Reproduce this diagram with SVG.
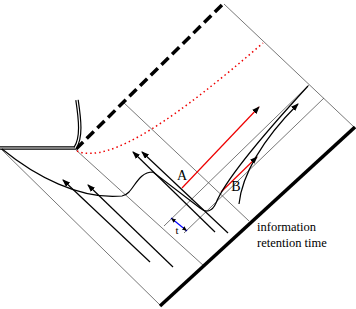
<svg xmlns="http://www.w3.org/2000/svg" width="356" height="309" viewBox="0 0 356 309">
<style>
.grid{stroke:#555;stroke-width:0.8;fill:none}
.blk{stroke:#000;stroke-width:1.2;fill:none}
.red{stroke:#e00;stroke-width:1.2;fill:none}
.lbl{font-family:"Liberation Serif",serif;fill:#000}
</style>
<defs>
<marker id="ah" markerWidth="8" markerHeight="6" refX="7" refY="3" orient="auto" markerUnits="userSpaceOnUse">
<path d="M0,0 L8,3 L0,6 z" fill="#000"/>
</marker>
<marker id="sh" markerWidth="5" markerHeight="4" refX="5" refY="2" orient="auto-start-reverse" markerUnits="userSpaceOnUse">
<path d="M0,0 L5,2 L0,4 z" fill="#000"/>
</marker>
</defs>
<rect width="356" height="309" fill="#fff"/>
<g id="grid">
<line class="grid" x1="0" y1="148" x2="160" y2="305"/>
<line class="grid" x1="76" y1="150" x2="204" y2="266"/>
<line class="grid" x1="123" y1="102" x2="249" y2="221"/>
<line class="grid" x1="224" y1="4" x2="354" y2="127"/>
<line class="grid" x1="164" y1="226" x2="309" y2="85"/>
<line class="grid" x1="184" y1="233" x2="324" y2="98"/>
</g>
<g id="boundaries">
<line x1="76" y1="149" x2="224" y2="3" stroke="#000" stroke-width="3.5" stroke-dasharray="10 5"/>
<line x1="160" y1="306" x2="355" y2="127" stroke="#000" stroke-width="3.5"/>
<path d="M0,148 H76" stroke="#000" stroke-width="3.6" fill="none"/>
<path d="M0,148 H76" stroke="#fff" stroke-width="1.2" fill="none"/>
<path d="M77,100 C80,120 82,138 75,148" stroke="#000" stroke-width="3.6" fill="none"/>
<path d="M77,100 C80,120 82,138 75,148" stroke="#fff" stroke-width="1.2" fill="none"/>
<path d="M77,151 C110,165 180,115 263,43" stroke="#e00" stroke-width="1.5" stroke-dasharray="1.5 3" fill="none"/>
</g>
<g id="connectors">
<line class="blk" x1="150" y1="262" x2="63" y2="180" marker-end="url(#ah)"/>
<line class="blk" x1="173" y1="267" x2="88" y2="185" marker-end="url(#ah)"/>
<line class="blk" x1="215" y1="232" x2="133" y2="152" marker-end="url(#ah)"/>
<line class="blk" x1="228" y1="233" x2="142" y2="152" marker-end="url(#ah)"/>
<line class="red" x1="182" y1="188" x2="259" y2="107" marker-end="url(#ah)"/>
<line class="red" x1="221" y1="192" x2="257" y2="157" marker-end="url(#ah)"/>
<path class="blk" d="M239,204 C242,175 262,140 298,104" marker-end="url(#ah)"/>
<path class="blk" d="M2,149 C35,176 80,200 122,196 C134,194 136,172 153,172 L200,208 C206,213 212,212 216,203 C222,188 240,160 308,86"/>
<line x1="171" y1="218" x2="187" y2="231" stroke="#00f" stroke-width="1.2" marker-start="url(#sh)" marker-end="url(#sh)"/>
</g>
<g id="labels">
<text class="lbl" x="182" y="180" font-size="14" text-anchor="middle">A</text>
<text class="lbl" x="236" y="191" font-size="14" text-anchor="middle">B</text>
<text class="lbl" x="177" y="234" font-size="11" text-anchor="middle">t</text>
<text class="lbl" x="257" y="231" font-size="12.5">information</text>
<text class="lbl" x="257" y="247" font-size="12.5">retention time</text>
</g>
</svg>
